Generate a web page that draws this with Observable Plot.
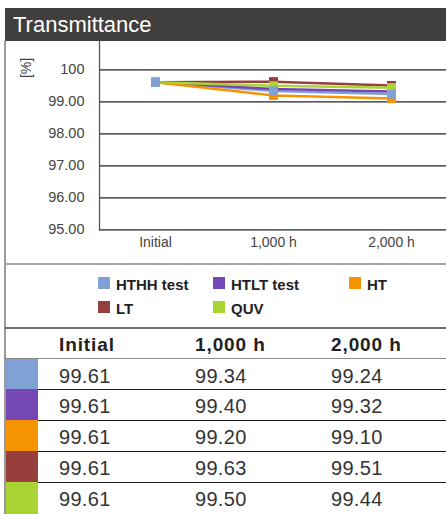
<!DOCTYPE html>
<html>
<head>
<meta charset="utf-8">
<script src="https://cdn.jsdelivr.net/npm/d3@7"></script>
<script src="https://cdn.jsdelivr.net/npm/@observablehq/plot@0.6"></script>
<style>
  html, body { margin: 0; padding: 0; background: #fff; }
  body { width: 446px; height: 514px; position: relative; overflow: hidden; font-family: "Liberation Sans", Arial, sans-serif; }
  .abs { position: absolute; }
  #header { left: 5px; top: 8px; width: 441px; height: 33px; background: #413f3d; color: #fff;
            font-size: 22px; line-height: 33px; padding-left: 8px; box-sizing: border-box; }
  #leftborder { left: 4px; top: 41px; width: 1.5px; height: 473px; background: #9a9a9a; }
  #unit { left: 25.5px; top: 68px; transform: translate(-50%, -50%) rotate(-90deg); font-size: 14px; color: #444; white-space: nowrap; }
  .hline { height: 0; }
  .legitem { font-size: 15px; font-weight: bold; color: #222; line-height: 14px; white-space: nowrap; }
  .legitem .sw { display: inline-block; width: 12px; height: 12px; vertical-align: top; margin-right: 6px; }
  .cell { font-size: 20px; color: #333; letter-spacing: 0.3px; white-space: nowrap; }
  .hcell { font-size: 19px; font-weight: bold; color: #222; letter-spacing: 0.9px; white-space: nowrap; }
</style>
</head>
<body>
<div id="header" class="abs">Transmittance</div>
<div id="leftborder" class="abs"></div>
<div id="chart" class="abs" style="left:5px; top:41px;"></div>
<div id="unit" class="abs">[%]</div>
<div id="legend"></div>
<div id="table"></div>
<script>
// ---- data ----
const series = ["HTHH test", "HTLT test", "HT", "LT", "QUV"];
const colors = ["#80a0d6", "#7547b5", "#f59400", "#963f3c", "#a9d433"];
const times = ["Initial", "1,000 h", "2,000 h"];
const hthh = [99.61, 99.34, 99.24];
const htlt = [99.61, 99.40, 99.32];
const ht   = [99.61, 99.20, 99.10];
const lt   = [99.61, 99.63, 99.51];
const quv  = [99.61, 99.50, 99.44];
const yTicks = [95, 96, 97, 98, 99, 100];
const yTickLabels = ["95.00", "96.00", "97.00", "98.00", "99.00", "100"];

const values = [hthh, htlt, ht, lt, quv];
const data = series.flatMap((s, i) => times.map((t, j) => ({series: s, time: t, value: values[i][j]})));
// markers drawn with HTHH on top
const dotOrder = ["HTLT test", "HT", "LT", "QUV", "HTHH test"];
const dotData = dotOrder.flatMap(s => data.filter(d => d.series === s));

const chart = Plot.plot({
  width: 441,
  height: 223,
  marginLeft: 94,
  marginRight: 0,
  marginTop: 0,
  marginBottom: 34.7,
  x: {type: "point", domain: times, padding: 0.47, label: null},
  y: {domain: [95, 100.884], label: null},
  color: {domain: series, range: colors},
  style: {fontFamily: "Liberation Sans, Arial, sans-serif", background: "transparent", overflow: "visible"},
  marks: [
    Plot.ruleY(yTicks, {stroke: "#222", strokeWidth: 1.3}),
    Plot.frame({anchor: "left", stroke: "#555", strokeWidth: 1.3}),
    Plot.axisY(yTicks, {tickSize: 0, tickPadding: 15, tickFormat: d => yTickLabels[yTicks.indexOf(d)], fontSize: 14.5, fill: "#444", label: null}),
    Plot.axisX({tickSize: 0, tickPadding: 7, fontSize: 14, fill: "#444", label: null}),
    Plot.line(data, {x: "time", y: "value", stroke: "series", z: "series", strokeWidth: 2.5}),
    Plot.dot(dotData, {x: "time", y: "value", fill: "series", symbol: "square", r: 5.1})
  ]
});
document.getElementById("chart").appendChild(chart);

// ---- separators ----
function hline(top, left, width, color, thick) {
  const d = document.createElement("div");
  d.className = "abs";
  d.style.cssText = `left:${left}px;top:${top}px;width:${width}px;height:${thick}px;background:${color};`;
  document.body.appendChild(d);
}
hline(263, 5, 441, "#a5a5a5", 2);
hline(327, 5, 441, "#707070", 1.5);
hline(357.5, 5, 441, "#8a8a8a", 1.5);

// ---- legend ----
const legCols = [98, 213, 349];
const legRows = [277, 301];
const legend = document.getElementById("legend");
series.forEach((s, i) => {
  const it = document.createElement("div");
  it.className = "abs legitem";
  it.style.left = legCols[i % 3] + "px";
  it.style.top = legRows[Math.floor(i / 3)] + "px";
  it.innerHTML = `<span class="sw" style="background:${colors[i]}"></span><span style="position:relative;top:0.5px">${s}</span>`;
  legend.appendChild(it);
});

// ---- table ----
const colX = [59, 195, 331];
const table = document.getElementById("table");
times.forEach((t, j) => {
  const c = document.createElement("div");
  c.className = "abs hcell";
  c.style.left = colX[j] + "px";
  c.style.top = "330px";
  c.style.lineHeight = "30px";
  c.textContent = t;
  table.appendChild(c);
});
const rowTops = [359, 389.5, 420.5, 451.5, 482.5];
series.forEach((s, i) => {
  const top = rowTops[i];
  const h = (i < series.length - 1 ? rowTops[i + 1] : 514) - top;
  const sw = document.createElement("div");
  sw.className = "abs";
  sw.style.cssText = `left:5.5px;top:${top - 0.5}px;width:32.5px;height:${h + 0.5}px;background:${colors[i]};`;
  table.appendChild(sw);
  if (i > 0) hline(top - 1, 38, 408, "#1a1a1a", 1.2);
  values[i].forEach((v, j) => {
    const c = document.createElement("div");
    c.className = "abs cell";
    c.style.left = colX[j] + "px";
    c.style.top = (top + 1.5) + "px";
    c.style.lineHeight = "31px";
    c.textContent = v.toFixed(2);
    table.appendChild(c);
  });
});
</script>
</body>
</html>
